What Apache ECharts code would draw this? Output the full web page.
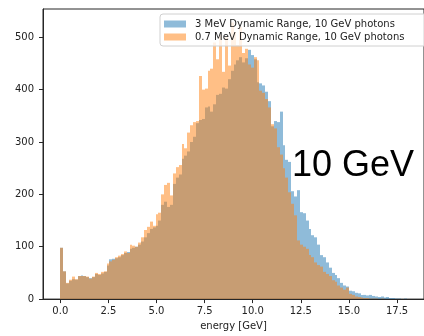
<!DOCTYPE html>
<html>
<head>
<meta charset="utf-8">
<script src="https://cdn.jsdelivr.net/npm/echarts@6/dist/echarts.min.js"></script>
<style>
html,body{margin:0;padding:0;background:#fff;}
#chart{width:424px;height:336px;}
</style>
</head>
<body>
<div id="chart"></div>
<script>
// ---- data ----
const binWidth = 0.15;               // GeV per histogram bin
const binStart = 0.0;
const seriesNames = ['3 MeV Dynamic Range, 10 GeV photons', '0.7 MeV Dynamic Range, 10 GeV photons'];
const blueCounts = [98,53,30,35,38,37,44,45,44,42, 40,42,48,46,49,52,64,76,77,78,
  80,84,88,90,96,98,100,104,110,118, 126,134,137,140,150,180,186,176,180,220,
  232,238,268,274,282,300,310,336,342,344, 366,368,358,372,390,392,404,402,420,436,
  448,456,462,452,460,476,466,458,414,412, 408,396,378,330,340,338,358,294,266,262,
  206,196,208,166,164,150,134,122,118,104, 84,80,70,60,50,46,40,31,26,24,
  16,15,12,11,8,8,7,8,6,5, 4,5,3,4,2,2,1,1,0,1];
const orangeCounts = [98,53,31,37,43,38,44,44,44,43, 39,43,50,48,52,53,68,72,75,80,
  83,86,91,88,104,102,100,108,118,132, 138,148,140,162,165,200,218,222,198,240,
  252,256,296,288,318,332,338,340,426,400, 402,436,440,490,458,505,434,500,446,528,
  510,485,520,470,478,448,442,462,456,398, 394,382,366,334,326,290,276,250,232,204,
  182,160,112,104,100,96,84,80,70,65, 62,52,48,44,36,33,26,22,18,22,
  10,8,5,4,3,2,2,1,1,1, 0,1,0,0,0,0,0,0,0,0];
const xTicks = [0, 2.5, 5, 7.5, 10, 12.5, 15, 17.5];
const yTicks = [0, 100, 200, 300, 400, 500];
const annotation = '10 GeV';
const xAxisName = 'energy [GeV]';

function toBins(counts) {
  return counts.map((c, i) => [binStart + i * binWidth, binStart + (i + 1) * binWidth, c]);
}

function renderBar(params, api) {
  const p0 = api.coord([api.value(0), api.value(2)]);
  const p1 = api.coord([api.value(1), 0]);
  const x0 = Math.round(p0[0]), x1 = Math.round(p1[0]);
  const yTop = p0[1], yBot = p1[1];
  return {
    type: 'rect',
    shape: { x: x0, y: yTop, width: x1 - x0, height: yBot - yTop },
    style: { fill: api.visual('color') }
  };
}

const chart = echarts.init(document.getElementById('chart'), null, { renderer: 'canvas' });
const font = 'DejaVu Sans, Liberation Sans, sans-serif';

chart.setOption({
  animation: false,
  backgroundColor: '#fff',
  grid: { left: 43, right: -4, top: 9, bottom: 35, show: true, borderColor: '#262626', borderWidth: 1, backgroundColor: 'transparent' },
  xAxis: {
    type: 'value', min: -0.9, max: 18.9,
    name: xAxisName, nameLocation: 'middle', nameGap: 20,
    nameTextStyle: { fontFamily: font, fontSize: 10, color: '#222' },
    axisLine: { show: true, onZero: false, lineStyle: { color: '#262626', width: 1 } },
    axisTick: { show: true, length: 4, customValues: xTicks, lineStyle: { color: '#262626' } },
    axisLabel: { customValues: xTicks, margin: 7, fontFamily: font, fontSize: 10, color: '#222',
      formatter: v => v.toFixed(1) },
    splitLine: { show: false }
  },
  yAxis: {
    type: 'value', min: 0, max: 554,
    axisLine: { show: true, onZero: false, lineStyle: { color: '#262626', width: 1 } },
    axisTick: { show: true, length: 4, customValues: yTicks, lineStyle: { color: '#262626' } },
    axisLabel: { customValues: yTicks, margin: 9, fontFamily: font, fontSize: 10, color: '#222' },
    splitLine: { show: false }
  },
  legend: {
    orient: 'vertical', left: 160, top: 14,
    padding: [5, 40, 4, 4], itemGap: 3,
    itemWidth: 22, itemHeight: 7, icon: 'rect',
    backgroundColor: 'rgba(255,255,255,0.8)', borderColor: '#d0d0d0', borderWidth: 1, borderRadius: 3,
    textStyle: { fontFamily: font, fontSize: 10, color: '#222', padding: [0, 0, 0, 4] },
    data: seriesNames
  },
  series: [
    {
      name: seriesNames[0], type: 'custom', renderItem: renderBar, clip: true,
      itemStyle: { color: 'rgba(31,119,180,0.5)' },
      encode: { x: [0, 1], y: 2 },
      data: toBins(blueCounts)
    },
    {
      name: seriesNames[1], type: 'custom', renderItem: renderBar, clip: true,
      itemStyle: { color: 'rgba(255,127,14,0.5)' },
      encode: { x: [0, 1], y: 2 },
      data: toBins(orangeCounts)
    }
  ],
  graphic: [
    { type: 'text', left: 292, top: 148, z: 100,
      style: { text: annotation, fontFamily: 'Liberation Sans, Arial, sans-serif', fontSize: 36, fill: '#000' } }
  ]
});
</script>
</body>
</html>
